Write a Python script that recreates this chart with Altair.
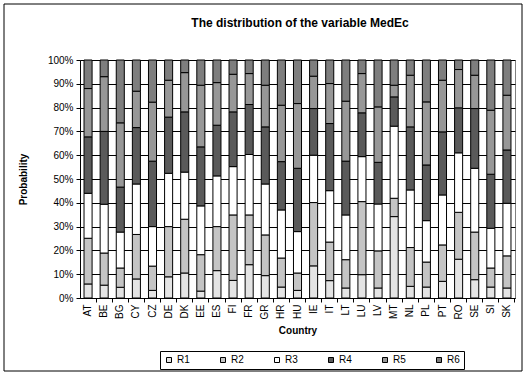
import altair as alt
import pandas as pd

countries = ["AT", "BE", "BG", "CY", "CZ", "DE", "DK", "EE", "ES", "FI", "FR", "GR", "HR", "HU",
             "IE", "IT", "LT", "LU", "LV", "MT", "NL", "PL", "PT", "RO", "SE", "SI", "SK"]
series = ["R1", "R2", "R3", "R4", "R5", "R6"]

r1 = [5.9, 5.4, 4.5, 8.0, 3.2, 8.9, 10.5, 2.9, 11.5, 7.4, 14.0, 9.4, 4.6, 3.2,
      13.5, 7.3, 4.2, 9.8, 4.2, 34.2, 4.9, 4.6, 7.0, 16.3, 7.7, 4.6, 4.2]
r2 = [19.2, 13.5, 8.1, 18.7, 10.2, 21.1, 22.6, 15.3, 18.5, 27.5, 20.9, 17.1, 12.2, 7.3,
      26.6, 16.2, 11.9, 30.7, 15.6, 7.7, 16.3, 10.5, 15.3, 19.7, 20.0, 8.0, 13.5]
r3 = [18.9, 20.5, 15.1, 21.2, 16.6, 22.4, 19.8, 20.5, 21.3, 20.3, 25.4, 21.4, 20.2, 17.4,
      19.9, 21.6, 18.8, 18.9, 19.7, 30.3, 24.2, 17.4, 21.0, 25.0, 26.8, 16.7, 22.1]
r4 = [23.7, 30.6, 18.9, 23.7, 27.5, 23.6, 25.3, 24.8, 21.3, 23.0, 21.0, 24.0, 20.3, 26.6,
      19.6, 28.2, 22.6, 18.4, 17.5, 12.3, 26.5, 23.4, 26.5, 18.9, 25.1, 22.7, 22.4]
r5 = [20.3, 23.0, 27.0, 15.3, 24.8, 15.5, 16.5, 25.9, 17.9, 15.8, 13.0, 17.5, 23.7, 27.2,
      13.6, 16.8, 25.2, 16.5, 23.3, 4.9, 21.7, 26.5, 21.7, 16.1, 14.0, 26.9, 23.0]
r6 = [12.0, 7.0, 26.4, 13.1, 17.7, 8.5, 5.3, 10.6, 9.5, 6.0, 5.7, 10.6, 19.0, 18.3,
      6.8, 9.9, 17.3, 5.7, 19.7, 10.6, 6.4, 17.6, 8.5, 4.0, 6.4, 21.1, 14.8]

title_text = "The distribution of the variable  MedEc"

fills = ["#e4e4e4", "#c4c4c4", "#ffffff", "#5a5a5a", "#979797", "#7e7e7e"]

rows = []
for k, (s, vals) in enumerate(zip(series, [r1, r2, r3, r4, r5, r6])):
    for c, v in zip(countries, vals):
        rows.append({"country": c, "series": s, "value": v, "rank": k})
df = pd.DataFrame(rows)

FONT = "Liberation Sans"

bars = alt.Chart(df).mark_bar(stroke="black", strokeWidth=1, opacity=1).encode(
    x=alt.X("country:N", sort=countries, title="Country",
            scale=alt.Scale(paddingInner=0.5, paddingOuter=0.25),
            axis=alt.Axis(labelAngle=270, bandPosition=1.5, tickSize=4, tickColor="black",
                          domainColor="black", labelFontSize=10, labelColor="black",
                          labelPadding=2, titleFontSize=10, titleFontWeight="bold",
                          titleColor="black", titlePadding=6, zindex=0)),
    y=alt.Y("value:Q", stack="normalize", title="Probability",
            axis=alt.Axis(format=".0%", values=[0, 0.1, 0.2, 0.3, 0.4, 0.5, 0.6, 0.7, 0.8, 0.9, 1.0],
                          grid=True, gridColor="black", gridOpacity=1, tickSize=4,
                          tickColor="black", domainColor="black", labelFontSize=10,
                          labelColor="black", labelPadding=3, titleFontSize=10,
                          titleFontWeight="bold", titleColor="black", titlePadding=19,
                          zindex=0)),
    fill=alt.Fill("series:N", scale=alt.Scale(domain=series, range=fills),
                  legend=alt.Legend(title=None, orient="none", legendX=80, legendY=291,
                                    direction="horizontal", columns=6, symbolType="square",
                                    symbolSize=25, symbolStrokeColor="black",
                                    symbolStrokeWidth=1, labelFontSize=10, labelColor="black",
                                    labelOffset=3, columnPadding=28, padding=4,
                                    strokeColor="black")),
    order=alt.Order("rank:Q", sort="ascending"),
)

one = pd.DataFrame({"label": [title_text]})

frame = alt.Chart(one).mark_rect(
    fill="white", fillOpacity=0, stroke="black", strokeWidth=1
).encode(x=alt.value(-76), x2=alt.value(442), y=alt.value(-56), y2=alt.value(311))

title = alt.Chart(one).mark_text(
    font=FONT, fontSize=12, fontWeight="bold", color="black", align="center",
    baseline="alphabetic"
).encode(x=alt.value(220), y=alt.value(-33), text="label:N")

chart = alt.layer(bars, frame, title).properties(
    width=435, height=238,
    autosize="none",
    padding={"left": 80, "top": 60, "right": 13, "bottom": 79},
).configure(font=FONT).configure_view(stroke="#808080", strokeWidth=1)

chart.save("out.html", embed_options={"renderer": "svg", "actions": False})
